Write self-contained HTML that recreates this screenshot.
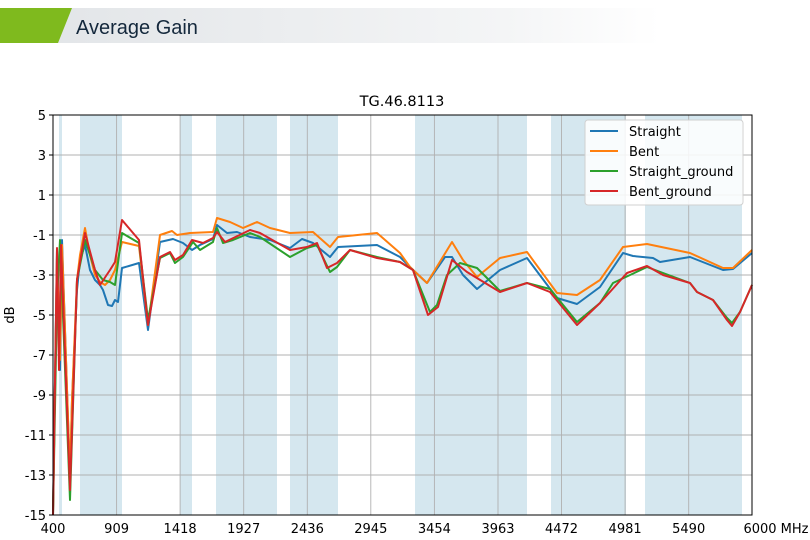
<!DOCTYPE html>
<html><head><meta charset="utf-8"><style>
html,body{margin:0;padding:0;background:#fff;width:810px;height:540px;overflow:hidden}
</style></head><body>
<svg width="810" height="540" xmlns="http://www.w3.org/2000/svg" font-family="'DejaVu Sans','Liberation Sans',sans-serif">
<defs><linearGradient id="g" x1="0" x2="1"><stop offset="0" stop-color="#e2e5e8"/><stop offset="0.75" stop-color="#f4f5f6"/><stop offset="1" stop-color="#fff"/></linearGradient></defs>
<rect x="40" y="8" width="620" height="35" fill="url(#g)"/>
<polygon points="0,8 72,8 58,43 0,43" fill="#7fba1e"/>
<text x="76" y="34" font-family="'Liberation Sans',sans-serif" font-size="20" fill="#14283c">Average Gain</text>
<text x="402" y="106" font-size="14.5" text-anchor="middle" fill="#000">TG.46.8113</text>
<g fill="#d5e7ef">
<rect x="59" y="115" width="3" height="400"/><rect x="80" y="115" width="42" height="400"/>
<rect x="180" y="115" width="12" height="400"/><rect x="216" y="115" width="61" height="400"/>
<rect x="290" y="115" width="48" height="400"/><rect x="415" y="115" width="112" height="400"/>
<rect x="551" y="115" width="75" height="400"/><rect x="645" y="115" width="97" height="400"/>
</g>
<g stroke="#b0b0b0" stroke-width="0.9">
<line x1="53" x2="752" y1="155" y2="155"/><line x1="53" x2="752" y1="195" y2="195"/><line x1="53" x2="752" y1="235" y2="235"/><line x1="53" x2="752" y1="275" y2="275"/><line x1="53" x2="752" y1="315" y2="315"/><line x1="53" x2="752" y1="355" y2="355"/><line x1="53" x2="752" y1="395" y2="395"/><line x1="53" x2="752" y1="435" y2="435"/><line x1="53" x2="752" y1="475" y2="475"/>
<line y1="115" y2="515" x1="116.6" x2="116.6"/><line y1="115" y2="515" x1="180.1" x2="180.1"/><line y1="115" y2="515" x1="243.7" x2="243.7"/><line y1="115" y2="515" x1="307.3" x2="307.3"/><line y1="115" y2="515" x1="370.8" x2="370.8"/><line y1="115" y2="515" x1="434.4" x2="434.4"/><line y1="115" y2="515" x1="498" x2="498"/><line y1="115" y2="515" x1="561.5" x2="561.5"/><line y1="115" y2="515" x1="625.1" x2="625.1"/><line y1="115" y2="515" x1="688.7" x2="688.7"/>
</g>
<g fill="none" stroke-width="2" stroke-linejoin="round">
<polyline stroke="#1f77b4" points="53,515 57,250 60,370 62,240 70,480 72,400 77,290 80,260 85,245 90,270 95,280 100,285 103,290 108,305 112,306 115,300 118,302 122,268 139,263 148,330 152,300 160,242 173,239 183,243 192,250 200,245 213,239 217,225 227,233 237,232 250,237 270,240 290,248 302,239 313,243 330,257 338,247 377,245 400,257 413,270 427,283 445,257 452,257 463,275 477,289 500,270 527,258 557,298 577,304 600,287 623,253 633,256 653,258 660,262 690,257 723,270 733,269 752,253"/>
<polyline stroke="#ff7f0e" points="53,515 57,255 60,360 62,245 70,475 72,400 77,280 80,255 85,228 90,255 95,275 100,282 105,285 110,280 115,270 122,242 139,246 148,325 160,235 172,231 177,235 190,233 213,232 217,218 230,222 243,228 257,222 270,228 290,233 313,232 330,247 338,237 377,233 400,253 410,267 427,283 452,242 463,260 477,277 500,258 527,252 557,293 577,295 600,280 623,247 647,244 690,253 723,268 733,268 752,250"/>
<polyline stroke="#2ca02c" points="53,515 57,300 60,240 62,290 70,500 77,280 85,240 95,270 103,280 110,282 115,285 122,233 139,243 148,320 160,258 170,253 175,263 183,257 193,242 200,250 213,242 217,228 223,243 233,240 250,233 260,237 290,257 307,248 317,245 330,272 337,267 350,250 377,257 400,262 413,270 430,312 437,305 447,275 460,263 477,268 500,291 527,283 550,289 577,322 600,303 613,283 647,267 690,283 697,292 713,300 727,318 732,323 740,312 752,285"/>
<polyline stroke="#d62728" points="53,515 57,248 59,370 61,245 70,490 77,280 85,233 95,270 100,285 110,270 115,262 122,220 139,240 148,325 160,257 170,252 175,260 183,255 192,240 203,243 213,238 217,232 225,242 250,230 260,233 290,250 307,247 317,243 327,268 337,263 350,250 377,258 400,262 413,270 428,315 438,307 452,260 467,272 500,292 527,283 550,292 577,325 600,303 627,273 647,266 663,275 690,283 697,292 713,300 727,320 732,326 740,312 752,285"/>
</g>
<rect x="53" y="115" width="699" height="400" fill="none" stroke="#000" stroke-width="1"/>
<g font-size="13" fill="#000" text-anchor="end">
<text x="46" y="120">5</text><text x="46" y="160">3</text><text x="46" y="200">1</text><text x="46" y="240">-1</text><text x="46" y="280">-3</text><text x="46" y="320">-5</text><text x="46" y="360">-7</text><text x="46" y="400">-9</text><text x="46" y="440">-11</text><text x="46" y="480">-13</text><text x="46" y="520">-15</text>
</g>
<g stroke="#000"><line x1="49" x2="53" y1="115" y2="115"/><line x1="49" x2="53" y1="155" y2="155"/><line x1="49" x2="53" y1="195" y2="195"/><line x1="49" x2="53" y1="235" y2="235"/><line x1="49" x2="53" y1="275" y2="275"/><line x1="49" x2="53" y1="315" y2="315"/><line x1="49" x2="53" y1="355" y2="355"/><line x1="49" x2="53" y1="395" y2="395"/><line x1="49" x2="53" y1="435" y2="435"/><line x1="49" x2="53" y1="475" y2="475"/><line x1="49" x2="53" y1="515" y2="515"/></g>
<g font-size="13" fill="#000" text-anchor="middle">
<text x="53" y="533">400</text><text x="116.6" y="533">909</text><text x="180.1" y="533">1418</text><text x="243.7" y="533">1927</text><text x="307.3" y="533">2436</text><text x="370.8" y="533">2945</text><text x="434.4" y="533">3454</text><text x="498" y="533">3963</text><text x="561.5" y="533">4472</text><text x="625.1" y="533">4981</text><text x="688.7" y="533">5490</text><text x="776" y="533">6000 MHz</text>
</g>
<text x="14" y="315" font-size="13" text-anchor="middle" transform="rotate(-90 14 315)">dB</text>
<rect x="585" y="120" width="158" height="85" rx="3" fill="#fff" fill-opacity="0.85" stroke="#d0d0d0"/>
<g stroke-width="2"><line x1="590" x2="618" y1="131" y2="131" stroke="#1f77b4"/><line x1="590" x2="618" y1="151" y2="151" stroke="#ff7f0e"/><line x1="590" x2="618" y1="171" y2="171" stroke="#2ca02c"/><line x1="590" x2="618" y1="191" y2="191" stroke="#d62728"/></g>
<g font-size="13" fill="#000"><text x="629" y="136">Straight</text><text x="629" y="156">Bent</text><text x="629" y="176">Straight_ground</text><text x="629" y="196">Bent_ground</text></g>
</svg>
</body></html>
